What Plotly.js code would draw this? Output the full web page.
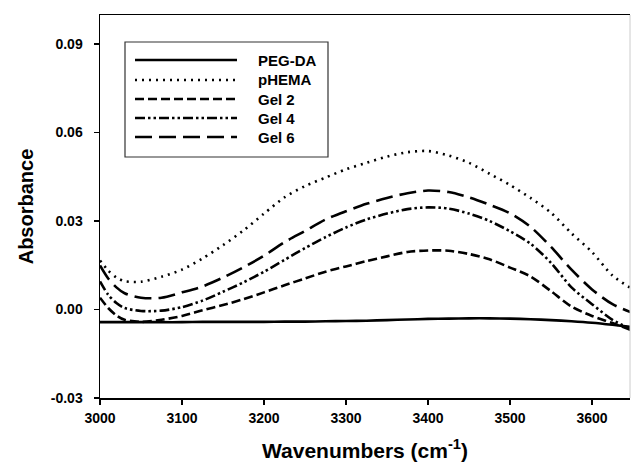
<!DOCTYPE html>
<html>
<head>
<meta charset="utf-8">
<script src="https://cdn.plot.ly/plotly-3.0.1.min.js"></script>
<style>html,body{margin:0;padding:0;background:#fff;}#chart{width:631px;height:472px;}</style>
</head>
<body>
<div id="chart"></div>
<script>
// ---- data ----
const wavenumbers = [3000,3010,3020,3030,3050,3075,3100,3125,3150,3175,3200,3225,3250,3275,3300,3325,3350,3375,3400,3425,3450,3475,3500,3525,3550,3575,3600,3625,3650];
const pegda = [-0.0043,-0.0043,-0.0043,-0.0043,-0.0043,-0.0043,-0.0043,-0.0042,-0.0042,-0.0042,-0.0042,-0.0041,-0.0041,-0.0040,-0.0039,-0.0038,-0.0036,-0.0034,-0.0032,-0.0031,-0.0030,-0.0030,-0.0031,-0.0033,-0.0036,-0.0040,-0.0045,-0.0052,-0.0060];
const phema = [0.0166,0.0132,0.0108,0.0096,0.0094,0.0111,0.0135,0.0173,0.0218,0.0268,0.0325,0.0380,0.0418,0.0447,0.0475,0.0497,0.0518,0.0533,0.0537,0.0522,0.0497,0.0460,0.0422,0.0378,0.0328,0.0258,0.0195,0.0115,0.0068];
const gel2 = [0.0040,0.0005,-0.0020,-0.0035,-0.0042,-0.0035,-0.0022,-0.0003,0.0015,0.0035,0.0058,0.0082,0.0105,0.0128,0.0146,0.0164,0.0180,0.0195,0.0200,0.0199,0.0188,0.0170,0.0142,0.0112,0.0062,0.0010,-0.0022,-0.0046,-0.0072];
const gel4 = [0.0095,0.0050,0.0022,0.0005,-0.0005,-0.0004,0.0008,0.0030,0.0060,0.0092,0.0128,0.0168,0.0208,0.0245,0.0278,0.0305,0.0325,0.0340,0.0346,0.0342,0.0325,0.0300,0.0265,0.0223,0.0158,0.0075,0.0018,-0.0035,-0.0070];
const gel6 = [0.0149,0.0105,0.0075,0.0055,0.0040,0.0040,0.0058,0.0078,0.0108,0.0143,0.0182,0.0228,0.0266,0.0305,0.0333,0.0358,0.0378,0.0394,0.0403,0.0398,0.0380,0.0355,0.0326,0.0280,0.0212,0.0135,0.0068,0.0018,-0.0012];
const seriesNames = ["PEG-DA","pHEMA","Gel 2","Gel 4","Gel 6"];
const seriesValues = [pegda, phema, gel2, gel4, gel6];
const xTickVals = [3000,3100,3200,3300,3400,3500,3600];
const xTickText = ["3000","3100","3200","3300","3400","3500","3600"];
const yTickVals = [-0.03,0.00,0.03,0.06,0.09];
const yTickText = ["-0.03","0.00","0.03","0.06","0.09"];

// ---- styles ----
const dashes = ["solid","2px,5px","9px,4px","10px,3px,2.5px,3px,2.5px,3px","17px,7px"];
const FONT = "Liberation Sans, Arial, sans-serif";

const traces = seriesValues.map((v,i)=>({
  type:"scatter", mode:"lines", x:wavenumbers, y:v, name:seriesNames[i],
  line:{color:"#000", width:2.6, dash:dashes[i], shape:"spline", smoothing:0.8},
  showlegend:false, hoverinfo:"skip"
}));

// plot area in pixels: left 100, right 630, top 15, bottom 398
const L=100, R=630, T=15, B=398;
const px2x = p => (p-L)/(R-L);
const py2y = p => (B-p)/(B-T);

const shapes = [
  {type:"rect", xref:"paper", yref:"paper", x0:px2x(125), x1:px2x(328), y0:py2y(157), y1:py2y(42),
   line:{color:"#333", width:1.2}, fillcolor:"rgba(0,0,0,0)"},
  {type:"line", xref:"paper", yref:"paper", x0:1, x1:1, y0:0, y1:1, line:{color:"#ccc", width:1}}
];
const annotations = [];
const rowsY = [60,80,99,118,137];
seriesNames.forEach((n,i)=>{
  shapes.push({type:"line", xref:"paper", yref:"paper", x0:px2x(135), x1:px2x(237),
    y0:py2y(rowsY[i]), y1:py2y(rowsY[i]), line:{color:"#000", width:2.6, dash:dashes[i]}});
  annotations.push({xref:"paper", yref:"paper", x:px2x(256), y:py2y(rowsY[i]), xanchor:"left", yanchor:"middle",
    text:"<b>"+n+"</b>", showarrow:false, font:{family:FONT, size:15, color:"#000"}});
});

const layout = {
  width:631, height:472,
  margin:{l:L, r:631-R, t:T, b:472-B, pad:0},
  paper_bgcolor:"#fff", plot_bgcolor:"#fff",
  showlegend:false,
  font:{family:FONT, color:"#000"},
  xaxis:{
    range:[3000,3000+(R-L)/0.82], showgrid:false, zeroline:false,
    showline:true, linecolor:"#000", linewidth:1.5, mirror:true,
    ticks:"outside", ticklen:5, tickwidth:1.5, tickcolor:"#000",
    tickvals:xTickVals, ticktext:xTickText, ticklabelstandoff:2,
    tickfont:{family:FONT, size:14, color:"#000", weight:"bold"},
    title:{text:"<b>Wavenumbers (cm<sup>-1</sup>)</b>", font:{family:FONT, size:21, color:"#000"}, standoff:18}
  },
  yaxis:{
    range:[-0.03,0.0998], showgrid:false, zeroline:false,
    showline:true, linecolor:"#000", linewidth:1.5,
    ticks:"outside", ticklen:5, tickwidth:1.5, tickcolor:"#000",
    tickvals:yTickVals, ticktext:yTickText, ticklabelstandoff:8,
    tickfont:{family:FONT, size:14, color:"#000", weight:"bold"},
    title:{text:"<b>Absorbance</b>", font:{family:FONT, size:20, color:"#000"}, standoff:12}
  },
  shapes:shapes, annotations:annotations
};

Plotly.newPlot("chart", traces, layout, {staticPlot:true, displayModeBar:false});
</script>
</body>
</html>
